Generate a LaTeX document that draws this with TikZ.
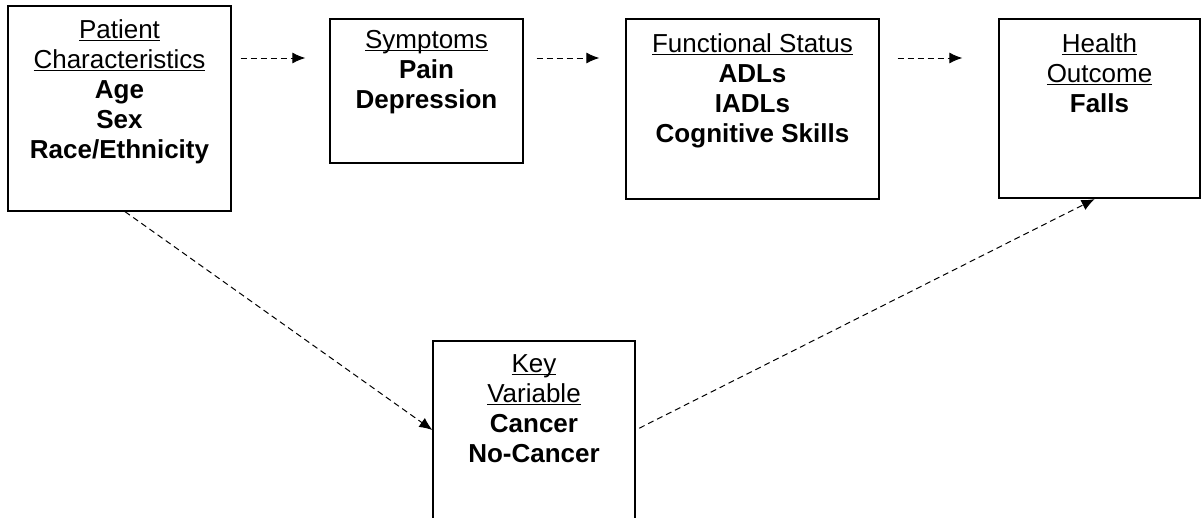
\documentclass[tikz,border=0pt]{standalone}
\usepackage{fontspec}
\setmainfont{Liberation Sans}
\usetikzlibrary{arrows.meta}

\newcommand{\hd}[1]{\underline{\smash{#1}}}
\newcommand{\stack}[1]{\begin{tabular}[t]{@{}c@{}}#1\end{tabular}}

\tikzset{
  varbox/.style={draw=black, line width=1.3pt, inner sep=0pt},
  boxtext/.style={anchor=base, inner sep=0pt, font=\fontsize{26}{30}\selectfont},
  flow/.style={black, line width=1pt, dash pattern=on 6pt off 4pt, -{Latex[length=13pt,width=11pt]}}
}

\begin{document}
\begin{tikzpicture}[x=1pt, y=-1pt]
    \useasboundingbox (0,0) rectangle (1202,517);
    \clip (0,0) rectangle (1202,517);

    % boxes
    \node[varbox, minimum width=223, minimum height=205] (pat) at (119.5,108.5) {};
    \node[varbox, minimum width=193, minimum height=144] (sym) at (426.5,91) {};
    \node[varbox, minimum width=253, minimum height=180] (fun) at (752.5,109) {};
    \node[varbox, minimum width=201, minimum height=179] (hea) at (1099.5,108.5) {};
    \node[varbox, minimum width=202, minimum height=178] (key) at (534,430) {};

    % texts
    \node[boxtext] (patT) at ([yshift=-33pt]pat.north) {\stack{\hd{Patient}\\\hd{Characteristics}\\\textbf{Age}\\\textbf{Sex}\\\textbf{Race/Ethnicity}}};
    \node[boxtext] (symT) at ([yshift=-30pt]sym.north) {\stack{\hd{Symptoms}\\\textbf{Pain}\\\textbf{Depression}}};
    \node[boxtext] (funT) at ([yshift=-34pt]fun.north) {\stack{\hd{Functional Status}\\\textbf{ADLs}\\\textbf{IADLs}\\\textbf{Cognitive Skills}}};
    \node[boxtext] (heaT) at ([yshift=-34pt]hea.north) {\stack{\hd{Health}\\\hd{Outcome}\\\textbf{Falls}}};
    \node[boxtext] (keyT) at ([yshift=-32pt]key.north) {\stack{\hd{Key}\\\hd{Variable}\\\textbf{Cancer}\\\textbf{No-Cancer}}};

    % arrows
    \coordinate (row) at (0,58);
    \draw[flow, shorten <=9pt, shorten >=24pt] (pat.east |- row) -- (sym.west |- row);
    \draw[flow, shorten <=13pt, shorten >=26pt] (sym.east |- row) -- (fun.west |- row);
    \draw[flow, shorten <=18pt, shorten >=36pt] (fun.east |- row) -- (hea.west |- row);
    \draw[flow] ([xshift=5.5pt]pat.south) -- (key.west);
    \draw[flow, shorten <=4pt, shorten >=1pt] (key.east) -- ([xshift=-4pt]hea.south);
\end{tikzpicture}
\end{document}
